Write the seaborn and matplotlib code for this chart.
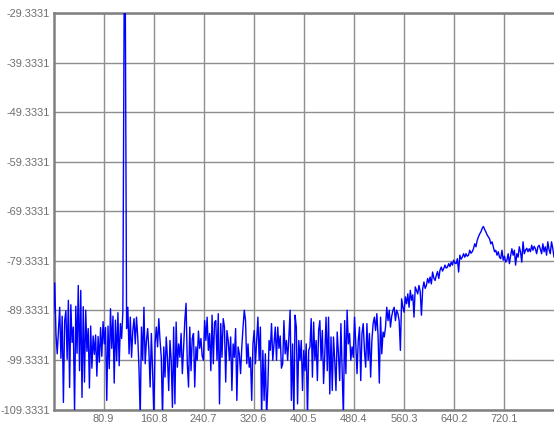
import numpy as np
import pandas as pd
import matplotlib
matplotlib.use("Agg")
import matplotlib.pyplot as plt
import seaborn as sns

# Spectrum trace, in dB, read left to right in contiguous stretches
noise_low_band = [
    -90.0, -83.8, -94.2, -98.1, -93.5, -88.7, -99.0, -90.5, -107.9, -91.5,
    -89.4, -99.2, -87.3, -104.9, -88.2, -95.8, -92.7, -109.8, -88.5, -98.0,
    -84.3, -101.5, -85.3, -106.9, -88.6, -103.8, -89.3, -97.6, -93.0, -105.0,
    -92.5, -101.0, -94.5, -98.2, -94.3, -102.6, -94.6, -99.8, -92.8, -98.6,
    -91.6, -96.1, -92.8, -107.5, -92.5, -101.1, -89.0, -97.0, -90.5, -104.0,
    -91.3, -99.5, -89.8, -100.5, -92.0, -95.0,
]
carrier = [-89.5, -29.4, -29.3331, -93.0]
noise_mid_a = [
    -88.7, -98.1, -90.7, -98.8, -93.5, -91.0, -96.1, -90.7, -94.7, -101.0,
    -111.0, -92.7, -99.4, -88.7, -100.1, -95.5, -93.0, -97.4, -104.8, -94.0,
    -101.5, -111.0, -96.0, -92.7, -96.7, -91.0, -95.4, -98.8, -111.0, -96.7,
    -102.8, -94.7, -99.0, -105.5, -95.4, -99.4, -108.9, -92.7, -108.2, -91.7,
    -100.8, -96.1, -98.8, -94.0, -102.1, -97.0, -91.4, -87.9, -100.1, -104.8,
    -92.7, -101.5, -95.0, -94.0, -104.8, -96.7, -99.4, -93.5, -97.0, -95.0,
    -98.5,
]
noise_mid_b = [
    -99.4, -91.4, -95.4, -90.7, -97.4, -94.0, -101.5, -90.3, -100.1, -91.7,
    -91.4, -99.4, -90.0, -108.2, -92.0, -98.8, -91.0, -92.7, -103.8, -93.4,
    -95.4, -99.4, -94.7, -105.5, -96.1, -98.8, -93.0, -107.5, -96.7, -98.1,
    -102.1, -96.7, -92.7, -89.3, -91.4, -100.1, -96.1, -100.8, -98.8, -107.5,
    -96.1, -93.4, -100.1, -95.4, -90.7, -99.4, -92.7, -111.0, -97.4, -107.5,
    -98.1, -111.0, -104.8, -95.4, -97.4, -92.0, -99.4, -96.1, -92.7, -99.4,
    -92.7, -97.0, -94.5, -101.0,
]
noise_mid_c = [
    -100.1, -91.4, -98.1, -95.4, -99.4, -94.7, -89.3, -107.5, -96.1, -111.0,
    -90.3, -92.7, -108.2, -95.4, -99.4, -95.4, -105.5, -97.4, -101.5, -96.1,
    -111.0, -97.4, -96.7, -91.0, -102.8, -91.7, -99.4, -95.4, -103.5, -93.4,
    -91.4, -99.4, -93.4, -104.1, -98.1, -90.7, -101.5, -90.7, -106.2, -94.7,
    -105.5, -94.7, -99.4, -105.5, -93.7, -98.1, -103.5, -92.0, -101.5, -111.0,
    -91.4, -102.1, -89.3, -96.1, -94.0, -99.4, -96.7,
]
ramp = [
    -98.8, -90.7, -96.0, -102.1, -95.4, -92.7, -103.5, -94.0, -92.0, -97.5,
    -100.8, -92.0, -99.4, -94.0, -102.8, -95.4, -92.0, -90.7, -93.4, -90.0,
    -94.5, -104.0, -90.7, -98.1, -93.7, -94.7, -92.7, -88.7, -91.4, -89.3,
    -92.7, -90.5, -89.3, -88.7, -91.4, -89.3, -90.0, -91.4, -97.4, -87.0,
    -88.7, -89.7, -86.6, -88.0, -86.0, -88.7, -85.3, -87.3, -86.2, -90.7,
    -84.6, -85.3, -86.0, -84.3, -85.5, -90.3, -85.0, -83.6, -84.9, -84.3,
    -82.9, -83.8, -82.6, -84.0,
]
hump = [
    -81.6, -82.8, -83.3, -82.3, -81.5, -82.9, -81.2, -80.6, -81.4, -80.9,
    -80.2, -80.8, -80.6, -79.9, -80.5, -79.6, -80.2, -79.2, -79.8, -79.9,
    -78.9, -81.6, -78.2, -79.0, -78.6, -77.9, -78.6, -77.9, -78.4, -78.2,
    -77.2, -77.8, -77.5, -76.9, -75.9, -76.5, -75.2, -74.5, -73.9, -73.5,
    -72.8, -72.4, -73.0, -73.5, -74.1, -74.5, -74.9, -75.9, -75.5, -76.5,
    -77.5, -77.2, -78.2, -77.5, -78.6, -78.9, -77.2, -79.2, -78.4, -79.6,
]
plateau = [
    -79.2, -77.9, -79.9, -78.3, -76.9, -78.2, -77.2, -80.2, -77.9, -78.6,
    -76.5, -77.6, -79.6, -75.5, -77.9, -77.2, -76.8, -77.5, -76.9, -77.5,
    -76.2, -77.2, -76.4, -76.9, -77.9, -76.5, -76.2, -77.0, -77.9, -75.9,
    -77.5, -76.5, -78.2, -75.5, -77.1, -77.9, -75.5, -76.8, -78.6,
]

x_range = [1.0, 800.0]
y_tick_labels = ["-109.3331", "-99.3331", "-89.3331", "-79.3331", "-69.3331",
                 "-59.3331", "-49.3331", "-39.3331", "-29.3331"]
x_tick_labels = ["80.9", "160.8", "240.7", "320.6", "400.5",
                 "480.4", "560.3", "640.2", "720.1"]

level = np.concatenate([noise_low_band, carrier, noise_mid_a, noise_mid_b,
                        noise_mid_c, ramp, hump, plateau])
bins = np.linspace(x_range[0], x_range[1], len(level))
df = pd.DataFrame({"bin": bins, "level": level})

sns.set_theme(style="white")
plt.rcParams["font.family"] = ["Liberation Sans", "DejaVu Sans"]

W, H = 554, 425
fig = plt.figure(figsize=(W / 100, H / 100), dpi=100)
left, top, bottom = 53.5, 13.0, 409.5
ax = fig.add_axes([left / W, 1 - bottom / H, 1 - left / W, (bottom - top) / H])

sns.lineplot(data=df, x="bin", y="level", ax=ax, color="#0000ff",
             linewidth=1.0, estimator=None, sort=False, zorder=3)

y_ticks = [float(t) for t in y_tick_labels]
x_ticks = [float(t) for t in x_tick_labels]
ax.set_xlim(*x_range)
ax.set_ylim(y_ticks[0], y_ticks[-1])
ax.set_xticks(x_ticks)
ax.set_xticklabels(x_tick_labels)
ax.set_yticks(y_ticks)
ax.set_yticklabels(y_tick_labels)
ax.set_xlabel("")
ax.set_ylabel("")

ax.grid(True, color="#8e8e8e", linewidth=1.0, zorder=1)
ax.set_axisbelow(True)
for side in ("left", "top", "bottom"):
    ax.spines[side].set_color("#808080")
    ax.spines[side].set_linewidth(1.8)
ax.spines["right"].set_visible(False)
ax.tick_params(axis="both", direction="in", length=3, width=1,
               color="#808080", labelcolor="#6e6e6e", labelsize=7.9)
ax.tick_params(axis="y", pad=2.5)
ax.tick_params(axis="x", pad=3)

fig.savefig("out.png", dpi=100)
